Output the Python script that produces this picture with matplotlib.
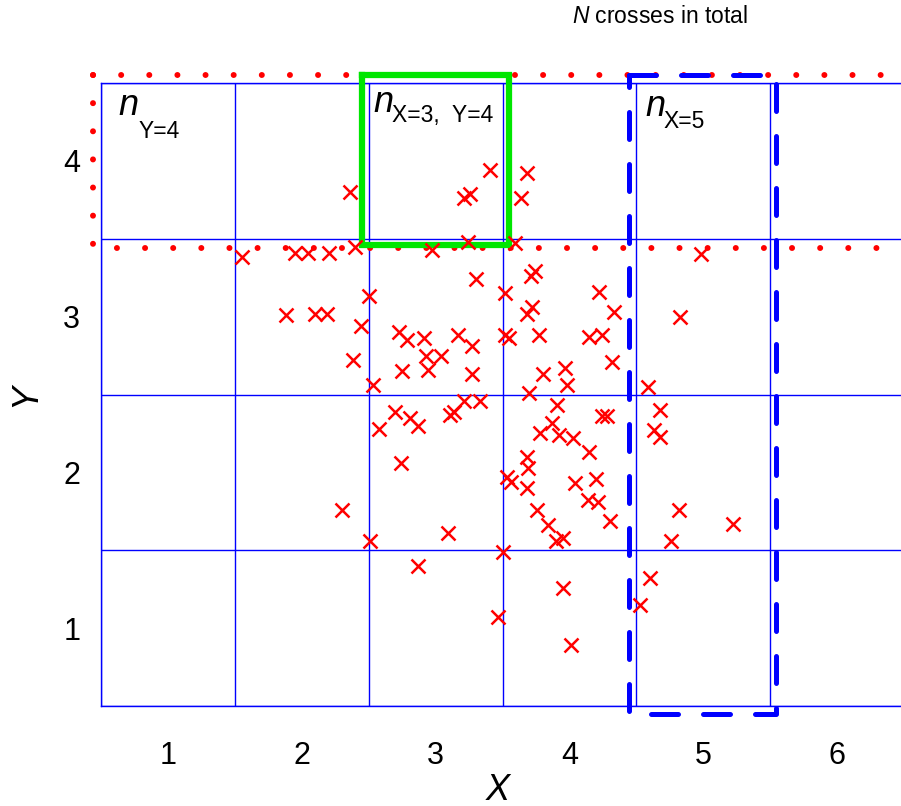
import matplotlib
matplotlib.use("Agg")
import matplotlib.pyplot as plt

plt.rcParams['font.family'] = ['Liberation Sans', 'DejaVu Sans']
plt.rcParams['mathtext.fontset'] = 'custom'
plt.rcParams['mathtext.it'] = 'Liberation Sans:italic'
plt.rcParams['mathtext.rm'] = 'Liberation Sans'

# sample points (X, Y)
x_vals = [2.36, 3.21, 3.26, 3.41, 3.68, 3.64, 3.24, 2.40, 3.59, 1.55,
          1.95, 2.05, 2.20, 2.97, 4.98, 2.50, 1.88, 2.10, 2.19, 2.44,
          2.73, 2.79, 2.91, 3.17, 3.27, 3.52, 3.55, 2.93, 3.04, 2.94,
          2.75, 3.27, 2.38, 2.53, 3.30, 3.52, 3.71, 3.74, 3.72, 3.68,
          3.77, 4.22, 4.33, 4.15, 4.24, 4.83, 4.32, 3.80, 3.97, 3.98,
          3.70, 4.59, 2.70, 2.81, 2.87, 2.58, 3.11, 3.14, 3.21, 3.33,
          2.74, 2.30, 2.51, 3.09, 2.87, 3.50, 3.47, 3.53, 3.56, 3.68,
          3.69, 3.68, 3.91, 4.24, 4.28, 3.87, 3.78, 3.92, 4.03, 4.15,
          4.04, 4.20, 4.14, 4.21, 3.76, 4.30, 3.84, 3.90, 3.95, 4.68,
          4.63, 4.68, 4.82, 5.22, 4.76, 4.60, 4.53, 3.95, 4.01]
y_vals = [3.80, 3.76, 3.79, 3.94, 3.92, 3.76, 3.48, 3.45, 3.47, 3.38,
          3.41, 3.41, 3.41, 3.43, 3.40, 3.13, 3.01, 3.02, 3.02, 2.94,
          2.90, 2.85, 2.86, 2.88, 2.81, 2.88, 2.86, 2.75, 2.75, 2.66,
          2.65, 2.63, 2.72, 2.56, 3.24, 3.15, 3.26, 3.29, 3.06, 3.02,
          2.88, 3.16, 3.03, 2.87, 2.88, 3.00, 2.71, 2.63, 2.67, 2.56,
          2.51, 2.55, 2.39, 2.35, 2.30, 2.28, 2.37, 2.39, 2.46, 2.46,
          2.06, 1.76, 1.56, 1.61, 1.40, 1.49, 1.07, 1.97, 1.94, 2.10,
          2.03, 1.90, 2.43, 2.36, 2.36, 2.32, 2.25, 2.24, 2.22, 2.13,
          1.93, 1.96, 1.82, 1.81, 1.76, 1.69, 1.66, 1.56, 1.58, 2.40,
          2.27, 2.23, 1.76, 1.67, 1.56, 1.32, 1.15, 1.26, 0.89]

x_ticks = [1, 2, 3, 4, 5, 6]
y_ticks = [1, 2, 3, 4]

fig = plt.figure(figsize=(9.01, 8.06), dpi=100)
ax = fig.add_axes([101 / 901, 100 / 806, 803 / 901, 623 / 806])
ax.set_xlim(0.5, 6.5)
ax.set_ylim(0.5, 4.5)

# cell boundaries
ax.set_xticks(x_ticks)
ax.set_yticks(y_ticks)
ax.set_xticks([t + 0.5 for t in [0] + x_ticks], minor=True)
ax.set_yticks([t + 0.5 for t in [0] + y_ticks], minor=True)
ax.grid(which='minor', color='#0000ff', lw=1.0)
ax.grid(which='major', visible=False)
ax.tick_params(which='both', length=0)
ax.tick_params(axis='x', labelsize=22, pad=25)
ax.tick_params(axis='y', labelsize=22, pad=15)
for sp in ax.spines.values():
    sp.set_color('#0000ff')
    sp.set_linewidth(1.0)
ax.set_axisbelow(True)

# row Y=4 (dotted red), both strokes start at the top-left corner
dots = dict(color='red', lw=4.3, ls=(0, (0.01, 4.7)), dash_capstyle='round',
            clip_on=False, zorder=3)
ax.plot([0.44, 6.7], [4.551, 4.551], **dots)
ax.plot([0.44, 0.44, 6.7], [4.551, 3.44, 3.44], **dots)

# cell X=3, Y=4 (green)
ax.plot([2.448, 3.552, 3.552, 2.448, 2.448], [4.551, 4.551, 3.46, 3.46, 4.551],
        color='#00e600', lw=4.5, solid_joinstyle='miter', clip_on=False, zorder=3)

# column X=5 (dashed blue), drawn clockwise from the top-left corner
ax.plot([4.448, 5.545, 5.545, 4.448, 4.448], [4.551, 4.551, 0.449, 0.449, 4.551],
        color='#0000ff', lw=3.6, ls=(0, (5.4, 5.0)), dash_capstyle='round',
        clip_on=False, zorder=3)

ax.plot(x_vals, y_vals, 'x', color='red', ms=10.5, mew=1.8, zorder=4, clip_on=False)

# cell count labels
for (lx, ly), sub, (dx, dy) in [((0.627, 4.295), 'Y=4', (15, -16.5)),
                                ((2.533, 4.314), 'X=3,  Y=4', (13.7, -7.2)),
                                ((4.566, 4.288), 'X=5', (13, -8.6))]:
    ax.text(lx, ly, 'n', fontsize=26, style='italic', va='baseline', ha='left', zorder=5)
    ax.annotate(sub, (lx, ly), xytext=(dx, dy), textcoords='offset points',
                fontsize=16.5, va='baseline', ha='left', zorder=5)

fig.text(572 / 901, 1 - 23 / 806, '$N$ crosses in total', fontsize=16.5, va='baseline', ha='left')
fig.text(498 / 901, 1 - 790 / 806, 'X', fontsize=26, style='italic', ha='center', va='center')
fig.text(26 / 901, 1 - 395 / 806, 'Y', fontsize=26, style='italic', ha='center', va='center',
         rotation=90)

fig.savefig('out.png', dpi=100)
